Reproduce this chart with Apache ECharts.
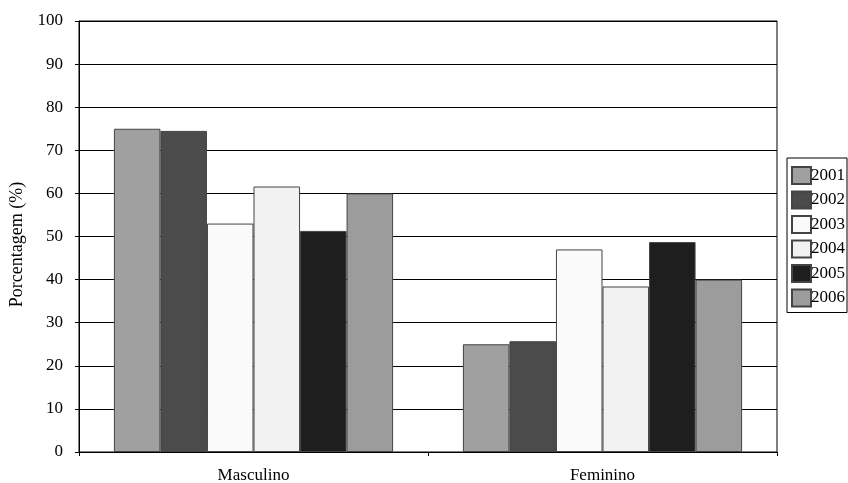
<!DOCTYPE html>
<html>
<head>
<meta charset="utf-8">
<script src="https://cdn.jsdelivr.net/npm/echarts@6/dist/echarts.min.js"></script>
<style>
  html, body { margin: 0; padding: 0; background: #fff; }
  #chart { width: 848px; height: 483px; }
</style>
</head>
<body>
<div id="chart"></div>
<script>
// Categories on the x axis
var groups = ['Masculino', 'Feminino'];
// One series per year
var years = ['2001', '2002', '2003', '2004', '2005', '2006'];
// Percentages per year, by sex
var masculino = [75, 74.5, 53, 61.6, 51.3, 60];
var feminino = [25, 25.7, 47, 38.4, 48.7, 40];
// Fill colours per year
var fills = ['#a0a0a0', '#4b4b4b', '#fafafa', '#f2f2f2', '#1e1e1e', '#9c9c9c'];

var serif = '"Liberation Serif", "Times New Roman", serif';

var series = years.map(function (y, i) {
  return {
    name: y,
    type: 'bar',
    data: [masculino[i], feminino[i]],
    barGap: '0%',
    barCategoryGap: '20%',
    itemStyle: { color: fills[i], borderColor: '#444', borderWidth: 1 },
    emphasis: { disabled: true }
  };
});

var chart = echarts.init(document.getElementById('chart'), null, { renderer: 'canvas' });
chart.setOption({
  animation: false,
  backgroundColor: '#fff',
  grid: {
    left: 79, right: 71, top: 21, bottom: 31,
    outerBoundsMode: 'none',
    show: true, borderColor: '#000', borderWidth: 1, backgroundColor: 'transparent'
  },
  legend: {
    orient: 'vertical',
    left: 787, top: 158,
    padding: [8, 2, 5, 4],
    borderColor: '#000', borderWidth: 1,
    itemWidth: 19, itemHeight: 17, itemGap: 5.5,
    icon: 'rect',
    textStyle: { fontFamily: serif, fontSize: 17, color: '#000', padding: [0, 0, 0, -5] },
    data: years
  },
  xAxis: {
    type: 'category',
    data: groups,
    axisLine: { lineStyle: { color: '#000', width: 1 } },
    axisTick: { show: true, length: 4, lineStyle: { color: '#000' } },
    axisLabel: { fontFamily: serif, fontSize: 17, color: '#000', margin: 15 }
  },
  yAxis: {
    type: 'value',
    min: 0, max: 100, interval: 10,
    name: 'Porcentagem (%)',
    nameLocation: 'middle',
    nameGap: 53,
    nameTextStyle: { fontFamily: serif, fontSize: 18, color: '#000', padding: [0, 16, 0, 0] },
    axisLine: { show: true, lineStyle: { color: '#000', width: 1 } },
    axisTick: { show: true, length: 4, lineStyle: { color: '#000' } },
    axisLabel: { fontFamily: serif, fontSize: 17, color: '#000', margin: 16 },
    splitLine: { show: true, lineStyle: { color: '#000', width: 1 } }
  },
  series: series
});
</script>
</body>
</html>
